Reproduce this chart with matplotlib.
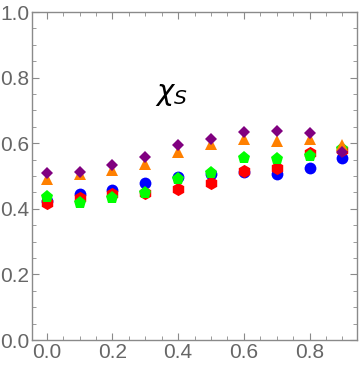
import matplotlib
matplotlib.use("Agg")
import matplotlib.pyplot as plt
from matplotlib.ticker import MultipleLocator

x = [0.0, 0.1, 0.2, 0.3, 0.4, 0.5, 0.6, 0.7, 0.8, 0.9]
blue = [0.425, 0.444, 0.457, 0.478, 0.496, 0.505, 0.512, 0.505, 0.524, 0.554]
red = [0.419, 0.432, 0.444, 0.447, 0.459, 0.478, 0.515, 0.526, 0.570, 0.578]
green = [0.437, 0.419, 0.432, 0.447, 0.490, 0.510, 0.554, 0.551, 0.561, 0.582]
orange = [0.491, 0.505, 0.518, 0.536, 0.572, 0.597, 0.612, 0.608, 0.612, 0.596]
purple = [0.508, 0.513, 0.534, 0.559, 0.596, 0.612, 0.634, 0.636, 0.630, 0.573]

plt.rcParams['font.family'] = ['Liberation Sans', 'DejaVu Sans']

fig = plt.figure(figsize=(3.6, 3.66), dpi=100)
ax = fig.add_axes([0.089, 0.071, 0.903, 0.896])

# series: colour, marker, size
series = [
    (blue, (0, 0, 1), 'o', 8.5),
    (red, (1, 0, 0), 'h', 9.5),
    (green, (0, 1, 0), 'p', 9.5),
    (orange, (1, 0.5, 0), '^', 8.5),
    (purple, (0.5, 0, 0.5), 'D', 6.5),
]
for i, (vals, col, mk, ms) in enumerate(series):
    ax.plot(x, vals, linestyle='none', marker=mk, color=col, markersize=ms,
            markeredgewidth=0, zorder=3 + i)

ax.set_xlim(-0.045, 0.945)
ax.set_ylim(0, 1.0)

ax.xaxis.set_major_locator(MultipleLocator(0.2))
ax.xaxis.set_minor_locator(MultipleLocator(0.05))
ax.yaxis.set_major_locator(MultipleLocator(0.2))
ax.yaxis.set_minor_locator(MultipleLocator(0.05))
ax.xaxis.set_major_formatter(plt.FuncFormatter(lambda v, p: f"{v:.1f}"))
ax.yaxis.set_major_formatter(plt.FuncFormatter(lambda v, p: f"{v:.1f}"))

frame_col = '#8a8a8a'
for s in ax.spines.values():
    s.set_color(frame_col)
    s.set_linewidth(1.0)
ax.tick_params(which='both', direction='in', top=True, right=True,
               color=frame_col, labelcolor='#666666', labelsize=15, pad=2)
ax.tick_params(which='major', length=5, width=0.8)
ax.tick_params(which='minor', length=3, width=0.6)

ax.text(0.38, 0.75, r'$\chi_S$', fontsize=21, ha='center', va='center')

fig.savefig('out.png', dpi=100)
